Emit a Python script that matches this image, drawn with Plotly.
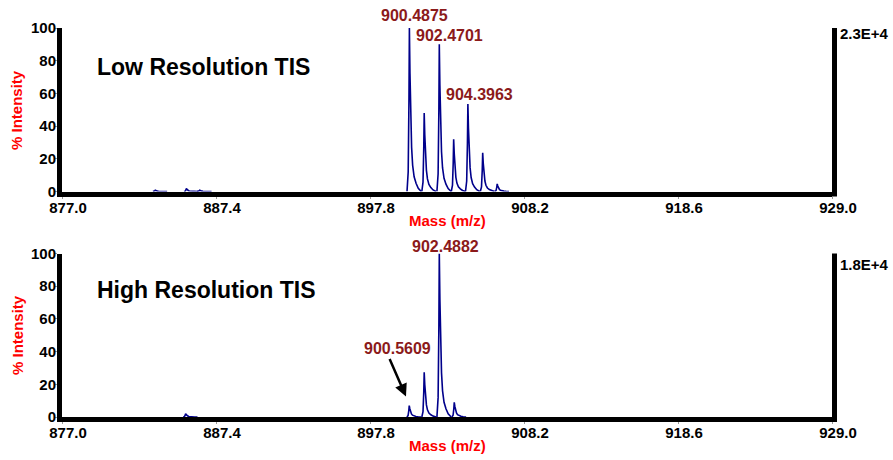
import numpy as np
import plotly.graph_objects as go

# ---- data ----
low_masses = [883.3, 885.4, 886.3, 900.46, 901.46, 902.48, 903.45, 904.41, 905.41, 906.39]
low_heights = [0.8, 1.8, 0.8, 100, 48, 90, 32, 53.5, 23.7, 4.6]
high_masses = [885.35, 900.45, 901.46, 902.48, 903.49]
high_heights = [2.0, 7.0, 27.4, 100, 9.0]

low_labels = ["900.4875", "902.4701", "904.3963"]
low_label_peaks = [3, 5, 7]
high_labels = ["902.4882"]
high_label_peaks = [3]
arrow_label = "900.5609"
arrow_peak = 1

low_scale = "2.3E+4"
high_scale = "1.8E+4"
x_ticks = [877.0, 887.4, 897.8, 908.2, 918.6, 929.0]
y_ticks = [0, 20, 40, 60, 80, 100]
x_range = [877.0, 929.0]

# ---- peak line shape (style) ----
OFFS = [-0.16, -0.08, -0.03, 0.0, 0.04, 0.09, 0.15, 0.22, 0.32, 0.45, 0.6, 0.8]
FRAC = [0, 0.12, 0.55, 1.0, 0.72, 0.45, 0.27, 0.16, 0.09, 0.05, 0.02, 0]


def profile(masses, heights):
    xs, ys = [], []
    for m, h in sorted(zip(masses, heights)):
        for o, f in zip(OFFS, FRAC):
            xs.append(m + o)
            ys.append(h * f)
        xs.append(None)
        ys.append(None)
    return xs, ys


FONT = "Arial, 'Liberation Sans', sans-serif"
LINE = "#00008b"
LABEL_RED = "#8b1a1a"


def b(s):
    return f"<b>{s}</b>"


fig = go.Figure()
lx, ly = profile(low_masses, low_heights)
hx, hy = profile(high_masses, high_heights)
fig.add_trace(go.Scatter(x=lx, y=ly, mode="lines", line=dict(color=LINE, width=1.6),
                         xaxis="x", yaxis="y", hoverinfo="skip", connectgaps=False))
fig.add_trace(go.Scatter(x=hx, y=hy, mode="lines", line=dict(color=LINE, width=1.6),
                         xaxis="x2", yaxis="y2", hoverinfo="skip", connectgaps=False))

axis_font = dict(family=FONT, size=15, color="black")
xcommon = dict(range=x_range, tickvals=x_ticks, ticktext=[b(f"{v:.1f}") for v in x_ticks],
               showline=True, linewidth=5, linecolor="black", ticks="outside", ticklen=2,
               tickcolor="#999999", tickfont=axis_font, showgrid=False, zeroline=False,
               ticklabelshift=6, ticklabelstandoff=-4, fixedrange=True, automargin=False)
ycommon = dict(range=[0, 100], tickvals=y_ticks, ticktext=[b(v) for v in y_ticks],
               showline=True, linewidth=5, linecolor="black",
               ticks="outside", ticklen=2, tickcolor="#999999", tickfont=axis_font,
               showgrid=False, zeroline=False, ticklabelstandoff=-4, fixedrange=True,
               automargin=False)

top_dom = [1 - 163.5 / 389, 1]
bot_dom = [0, 163.5 / 389]

fig.update_layout(
    width=893, height=460,
    margin=dict(l=62, r=61, t=28, b=43, autoexpand=False),
    paper_bgcolor="white", plot_bgcolor="white",
    showlegend=False,
    xaxis=dict(domain=[0, 1], anchor="y", **xcommon),
    yaxis=dict(domain=top_dom, anchor="x", **ycommon),
    xaxis2=dict(domain=[0, 1], anchor="y2", **xcommon),
    yaxis2=dict(domain=bot_dom, anchor="x2", **ycommon),
)

# right-hand border lines
for xr, yr in (("x domain", "y domain"), ("x2 domain", "y2 domain")):
    fig.add_shape(type="line", xref=xr, yref=yr, x0=1 + 2.5 / 770, x1=1 + 2.5 / 770,
                  y0=-5 / 163.5, y1=1, line=dict(color="black", width=5))

annots = []
# scale labels
scale_font = dict(family=FONT, size=15, color="black")
annots.append(dict(xref="x domain", yref="y domain", x=1.0078, y=0.969, text=b(low_scale),
                   showarrow=False, xanchor="left", yanchor="middle", font=scale_font))
annots.append(dict(xref="x2 domain", yref="y2 domain", x=1.0078, y=0.933, text=b(high_scale),
                   showarrow=False, xanchor="left", yanchor="middle", font=scale_font))

# panel titles
title_font = dict(family=FONT, size=23, color="black")
annots.append(dict(xref="paper", yref="paper", x=(95 - 62) / 770, y=(417 - 67) / 389,
                   text=b("Low Resolution TIS"), showarrow=False, xanchor="left",
                   yanchor="middle", font=title_font))
annots.append(dict(xref="paper", yref="paper", x=(95 - 62) / 770, y=(417 - 290) / 389,
                   text=b("High Resolution TIS"), showarrow=False, xanchor="left",
                   yanchor="middle", font=title_font))

# axis titles
red_font = dict(family=FONT, size=15, color="#ff0000")
for yc in (110, 335):
    annots.append(dict(xref="paper", yref="paper", x=(17 - 62) / 770, y=(417 - yc) / 389,
                       text=b("% Intensity"), showarrow=False, textangle=-90,
                       xanchor="center", yanchor="middle", font=red_font))
for yc in (220, 445):
    annots.append(dict(xref="paper", yref="paper", x=0.5, y=(417 - yc) / 389,
                       text=b("Mass (m/z)"), showarrow=False,
                       xanchor="center", yanchor="middle", font=red_font))

# peak labels
pk_font = dict(family=FONT, size=16, color=LABEL_RED)
low_shifts = [(5, 13), (10, 9), (12, 10)]
for txt, idx, (dx, dy) in zip(low_labels, low_label_peaks, low_shifts):
    annots.append(dict(xref="x", yref="y", x=low_masses[idx], y=low_heights[idx], text=b(txt),
                       showarrow=False, xanchor="center", yanchor="middle",
                       xshift=dx, yshift=dy, font=pk_font))
for txt, idx in zip(high_labels, high_label_peaks):
    annots.append(dict(xref="x2", yref="y2", x=high_masses[idx], y=high_heights[idx], text=b(txt),
                       showarrow=False, xanchor="center", yanchor="middle",
                       xshift=6, yshift=7, font=pk_font))
# arrow + its label
am, ah = high_masses[arrow_peak], high_heights[arrow_peak]
annots.append(dict(xref="x2", yref="y2", x=am - 0.22, y=ah + 5.5, text="",
                   showarrow=True, arrowhead=2, arrowsize=1, arrowwidth=2.5,
                   arrowcolor="black", ax=-17, ay=-39))
annots.append(dict(xref="x2", yref="y2", x=am, y=ah, text=b(arrow_label), showarrow=False,
                   xanchor="center", yanchor="middle", xshift=-12, yshift=57, font=pk_font))

fig.update_layout(annotations=annots)
fig.write_html("out.html", config={"displayModeBar": False},
               post_script="document.body.style.margin='0';document.body.style.overflow='hidden';")
